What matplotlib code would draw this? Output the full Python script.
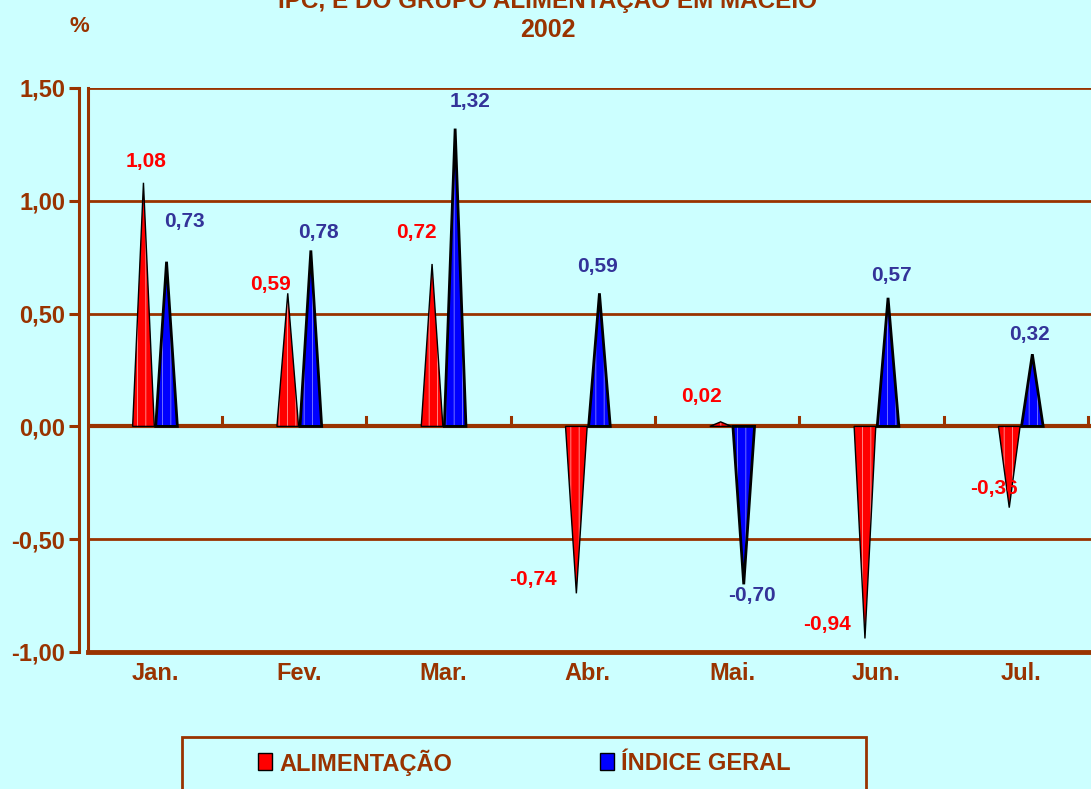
import numpy as np
import matplotlib
matplotlib.use("Agg")
import matplotlib.pyplot as plt
from matplotlib.patches import Polygon, Rectangle

# dados do grafico
meses = ["Jan.", "Fev.", "Mar.", "Abr.", "Mai.", "Jun.", "Jul."]
alimentacao = [1.08, 0.59, 0.72, -0.74, 0.02, -0.94, -0.36]
indice_geral = [0.73, 0.78, 1.32, 0.59, -0.70, 0.57, 0.32]
yticks = [-1.0, -0.5, 0.0, 0.5, 1.0, 1.5]

# deslocamento dos rotulos (pixels) em relacao ao vertice
off_alim = [(3, 21), (-17, 9), (-16, 31), (-43, 14), (-19, 25), (-38, 14), (-15, 19)]
off_ger = [(18, 40), (8, 18), (15, 27), (-2, 27), (8, -11), (3, 22), (-3, 20)]

BROWN = "#993300"
BG = "#CCFFFF"
plt.rcParams['font.family'] = ['Liberation Sans', 'DejaVu Sans']
plt.rcParams['font.weight'] = 'bold'
plt.rcParams['hatch.linewidth'] = 0.6

fig = plt.figure(figsize=(10.91, 7.89), dpi=100, facecolor=BG)
W, H = 1091, 789
ax = fig.add_axes([88 / W, (H - 652) / H, 1003 / W, 564 / H])
ax.set_facecolor(BG)

ax.set_xlim((88 - 155) / 144.3, (1091 - 155) / 144.3)
ax.set_ylim(-1.0, 1.5)

# linhas de grade
for v in yticks[1:]:
    ax.axhline(v, color=BROWN, lw=3 if v == 0 else 2, zorder=1)

half = 0.075
shift = 0.08


def spike(xc, v, face, hatchc, lw):
    pts = [(xc - half, 0), (xc, v), (xc + half, 0)]
    ax.add_patch(Polygon(pts, closed=True, facecolor=face, edgecolor=hatchc,
                         hatch='||', lw=0, zorder=3))
    ax.add_patch(Polygon(pts, closed=True, fill=False, edgecolor='black',
                         lw=lw, zorder=4, joinstyle='miter'))


x = np.arange(len(meses))
for i in range(len(meses)):
    spike(x[i] - shift, alimentacao[i], '#FF0000', '#FF9999', 1.0)
    spike(x[i] + shift, indice_geral[i], '#0000FF', '#8080FF', 2.0)
    ax.annotate(f"{alimentacao[i]:.2f}".replace('.', ','), (x[i] - shift, alimentacao[i]),
                xytext=off_alim[i], textcoords='offset pixels', ha='center', va='center',
                color='#FF0000', fontsize=15, fontweight='bold', zorder=6)
    ax.annotate(f"{indice_geral[i]:.2f}".replace('.', ','), (x[i] + shift, indice_geral[i]),
                xytext=off_ger[i], textcoords='offset pixels', ha='center', va='center',
                color='#333399', fontsize=15, fontweight='bold', zorder=6)

# eixos
for s in ['top', 'right']:
    ax.spines[s].set_visible(False)
ax.spines['left'].set_position(('outward', 6.5))
ax.spines['left'].set_color(BROWN)
ax.spines['left'].set_linewidth(2.2)
ax.spines['bottom'].set_color(BROWN)
ax.spines['bottom'].set_linewidth(3.5)
ax.axvline(ax.get_xlim()[0], color=BROWN, lw=2.2, zorder=2, clip_on=False)

ax.set_yticks(yticks)
ax.set_yticklabels([f"{v:.2f}".replace('.', ',') for v in yticks])
ax.tick_params(axis='y', colors=BROWN, labelsize=17, length=7, width=2.2, pad=3)
ax.set_xticks(x)
ax.set_xticklabels(meses)
ax.tick_params(axis='x', colors=BROWN, labelsize=17, length=0, pad=7)

# marcas de categoria sobre a linha zero
for b in x + 0.5 - 0.035:
    ax.plot([b, b], [0, 0.04], color=BROWN, lw=2.2, zorder=2, clip_on=False)

# titulos
fig.text(548 / W, 1 - 0 / H, "IPC, E DO GRUPO ALIMENTAÇÃO EM MACEIÓ", ha='center', va='center',
         color=BROWN, fontsize=17.5, fontweight='bold')
fig.text(548 / W, 1 - 30 / H, "2002", ha='center', va='center',
         color=BROWN, fontsize=18, fontweight='bold')
fig.text(79 / W, 1 - 27 / H, "%", ha='center', va='center',
         color=BROWN, fontsize=16, fontweight='bold')

# legenda
fig.patches.append(Rectangle((182 / W, -0.05), (866 - 182) / W, 0.05 + (H - 737) / H,
                             transform=fig.transFigure, facecolor=BG, edgecolor=BROWN, lw=2))
for (mx, col, txt) in [(258, '#FF0000', "ALIMENTAÇÃO"), (600, '#0000FF', "ÍNDICE GERAL")]:
    fig.patches.append(Rectangle((mx / W, (H - 770) / H), 14 / W, 17 / H,
                                 transform=fig.transFigure, facecolor=col, edgecolor='black', lw=1))
    fig.text((mx + 21) / W, 1 - 763 / H, txt, ha='left', va='center', color=BROWN,
             fontsize=17, fontweight='bold')

fig.savefig("out.png", dpi=100, facecolor=BG)
